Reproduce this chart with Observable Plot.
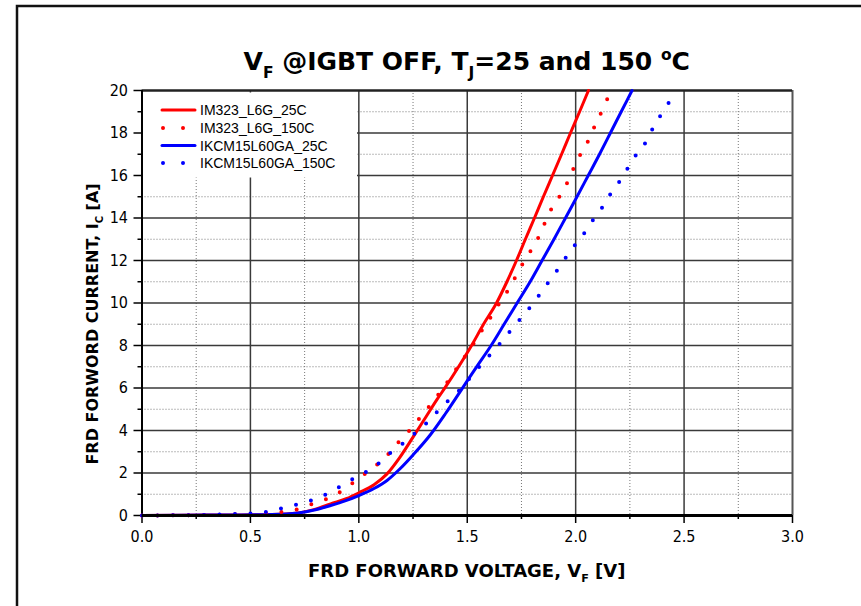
<!DOCTYPE html>
<html>
<head>
<meta charset="utf-8">
<script src="https://cdn.jsdelivr.net/npm/d3@7"></script>
<script src="https://cdn.jsdelivr.net/npm/@observablehq/plot@0.6"></script>
<style>
  html, body { margin: 0; padding: 0; background: #fff; }
  #chart svg { display: block; }
</style>
</head>
<body>
<div id="chart"></div>
<script>
// ---- Data ----
const seriesNames = ["IM323_L6G_25C", "IM323_L6G_150C", "IKCM15L60GA_25C", "IKCM15L60GA_150C"];
const seriesColors = ["#ff0000", "#ff0000", "#0000ff", "#0000ff"];
const seriesDotted = [false, true, false, true];

const im323_25C_V = [0, 0.3, 0.6, 0.72, 0.80, 0.87, 0.945, 1.0, 1.07, 1.13, 1.19, 1.25, 1.31, 1.36, 1.40, 1.46, 1.52, 1.575, 1.635, 1.683, 1.727, 1.768, 1.81, 1.851, 1.893, 1.935, 1.976, 2.018, 2.059];
const im323_25C_I = [0, 0.02, 0.05, 0.12, 0.3, 0.55, 0.8, 1.07, 1.45, 1.96, 2.75, 3.69, 4.65, 5.45, 6.05, 7.0, 8.0, 9.0, 10.0, 11.0, 12.0, 13.0, 14.0, 15.0, 16.0, 17.0, 18.0, 19.0, 20.0];

const im323_150C_V = [0, 0.3, 0.59, 0.66, 0.73, 0.80, 0.87, 0.935, 1.0, 1.065, 1.12, 1.18, 1.24, 1.29, 1.34, 1.39, 1.46, 1.53, 1.57, 1.61, 1.65, 1.70, 1.74, 1.78, 1.82, 1.85, 1.88, 1.92, 1.95, 1.98, 2.01, 2.05, 2.08, 2.11, 2.14, 2.17];
const im323_150C_I = [0, 0.03, 0.11, 0.19, 0.33, 0.6, 0.86, 1.25, 1.76, 2.24, 2.71, 3.42, 4.08, 4.71, 5.33, 6.01, 7.05, 8.1, 8.75, 9.36, 10.02, 10.8, 11.58, 12.25, 12.91, 13.58, 14.27, 14.93, 15.42, 16.09, 16.78, 17.46, 18.15, 18.79, 19.48, 20.0];

const ikcm_25C_V = [0, 0.3, 0.6, 0.72, 0.80, 0.87, 0.94, 1.0, 1.07, 1.13, 1.19, 1.25, 1.33, 1.40, 1.475, 1.54, 1.61, 1.67, 1.73, 1.79, 1.845, 1.90, 1.953, 2.006, 2.058, 2.11, 2.16, 2.21, 2.26];
const ikcm_25C_I = [0, 0.02, 0.05, 0.12, 0.27, 0.47, 0.7, 0.94, 1.27, 1.65, 2.2, 2.85, 3.8, 4.8, 5.95, 6.95, 8.0, 9.0, 10.0, 11.0, 12.0, 13.0, 14.0, 15.0, 16.0, 17.0, 18.0, 19.0, 20.0];

const ikcm_150C_V = [0, 0.3, 0.46, 0.53, 0.60, 0.67, 0.73, 0.80, 0.87, 0.93, 1.0, 1.07, 1.13, 1.21, 1.27, 1.33, 1.38, 1.44, 1.48, 1.53, 1.58, 1.63, 1.68, 1.73, 1.77, 1.82, 1.86, 1.905, 1.946, 1.995, 2.033, 2.075, 2.12, 2.16, 2.20, 2.24, 2.28, 2.33, 2.36, 2.40, 2.44, 2.46];
const ikcm_150C_I = [0, 0.03, 0.08, 0.11, 0.22, 0.41, 0.56, 0.78, 1.1, 1.47, 1.88, 2.27, 2.82, 3.45, 3.97, 4.52, 5.1, 5.65, 6.07, 6.7, 7.28, 7.84, 8.46, 9.07, 9.55, 10.2, 10.78, 11.4, 12.01, 12.7, 13.19, 13.84, 14.46, 15.12, 15.69, 16.34, 16.99, 17.68, 18.31, 18.95, 19.58, 19.85];

const xMajorTicks = [0, 0.5, 1.0, 1.5, 2.0, 2.5, 3.0];
const xMinorTicks = [0.25, 0.75, 1.25, 1.75, 2.25, 2.75];
const yMajorTicks = [0, 2, 4, 6, 8, 10, 12, 14, 16, 18, 20];
const yMinorTicks = [1, 3, 5, 7, 9, 11, 13, 15, 17, 19];

const titleParts = [["V", ""], ["F", "sub"], [" @IGBT OFF, T", ""], ["J", "sub"], ["=25 and 150 ", ""], ["o", "sup"], ["C", ""]];
const xLabelParts = [["FRD FORWARD VOLTAGE, V", ""], ["F", "sub"], [" [V]", ""]];
const yLabelParts = [["FRD FORWORD CURRENT, I", ""], ["C", "sub"], [" [A]", ""]];

// ---- Build tables ----
function table(name, V, I) { return V.map((v, k) => ({series: name, v, i: I[k]})); }
const tables = [
  table(seriesNames[0], im323_25C_V, im323_25C_I),
  table(seriesNames[1], im323_150C_V, im323_150C_I),
  table(seriesNames[2], ikcm_25C_V, ikcm_25C_I),
  table(seriesNames[3], ikcm_150C_V, ikcm_150C_I)
];

const gridCol = "#3a3a3a";
const lineMarks = [];
[0, 2, 1, 3].forEach(k => {
  lineMarks.push(Plot.line(tables[k], {
    x: "v", y: "i", stroke: seriesColors[k],
    curve: "monotone-x",
    strokeWidth: seriesDotted[k] ? 4 : 3,
    strokeDasharray: seriesDotted[k] ? "0,15.5" : null,
    strokeLinecap: "round", strokeLinejoin: "round"
  }));
});

const tickFont = "'DejaVu Sans Condensed', 'DejaVu Sans', sans-serif";
const chart = Plot.plot({
  width: 861, height: 606,
  marginLeft: 141.5, marginRight: 69, marginTop: 90, marginBottom: 91,
  x: {domain: [0, 3]},
  y: {domain: [0, 20]},
  style: {fontFamily: tickFont, fontSize: "16px", background: "white", color: "black"},
  marks: [
    Plot.gridX(xMinorTicks, {stroke: "#777", strokeOpacity: 1, strokeWidth: 1, strokeDasharray: "1,2"}),
    Plot.gridY(yMinorTicks, {stroke: "#777", strokeOpacity: 1, strokeWidth: 1, strokeDasharray: "1,2"}),
    Plot.gridX(xMajorTicks.slice(1, -1), {stroke: gridCol, strokeOpacity: 1, strokeWidth: 1.5}),
    Plot.gridY(yMajorTicks.slice(1, -1), {stroke: gridCol, strokeOpacity: 1, strokeWidth: 1.5}),
    Plot.axisX(xMajorTicks, {tickSize: 8, tickPadding: 7, tickFormat: d => d.toFixed(1), label: null, fontSize: 16, strokeWidth: 1.5}),
    Plot.axisX(xMinorTicks, {tickSize: 4, tickFormat: () => "", label: null, strokeWidth: 1.5}),
    Plot.axisY(yMajorTicks, {tickSize: 8, tickPadding: 6, label: null, fontSize: 16, strokeWidth: 1.5}),
    Plot.axisY(yMinorTicks, {tickSize: 4, tickFormat: () => "", label: null, strokeWidth: 1.5}),
    Plot.ruleX([3], {stroke: "#555", strokeWidth: 2}),
    Plot.ruleY([20], {stroke: "#222", strokeWidth: 2.5}),
    Plot.ruleX([0], {stroke: "black", strokeWidth: 2}),
    ...lineMarks,
    Plot.ruleY([0], {stroke: "black", strokeWidth: 3})
  ]
});
document.getElementById("chart").appendChild(chart);

// ---- Decorations: outer frame, title, axis labels, legend ----
const svg = d3.select(chart);
svg.append("path").attr("d", "M17,606V6H861").attr("fill", "none").attr("stroke", "#111").attr("stroke-width", 2.5);

const labelFont = "'DejaVu Sans', sans-serif";
function richText(g, parts, size, baseAttrs) {
  const t = g.append("text").attr("text-anchor", "middle").attr("font-weight", "bold")
    .attr("font-family", labelFont).attr("font-size", size).attr("fill", "black");
  Object.entries(baseAttrs).forEach(([k, v]) => t.attr(k, v));
  let shift = 0;
  parts.forEach(([s, kind]) => {
    const target = kind === "sub" ? size * 0.3 : kind === "sup" ? -size * 0.42 : 0;
    const ts = t.append("tspan").text(s).attr("dy", target - shift);
    if (kind) ts.attr("font-size", size * 0.62);
    shift = target;
  });
  return t;
}

const plotCx = (141.5 + 792) / 2;
richText(svg, titleParts, 25, {x: plotCx, y: 70});
richText(svg, xLabelParts, 18, {x: plotCx, y: 577});
const gy = svg.append("g").attr("transform", "translate(98,324) rotate(-90)");
richText(gy, yLabelParts, 16, {x: 0, y: 0});

// legend
const lg = svg.append("g");
lg.append("rect").attr("x", 143).attr("y", 92.5).attr("width", 214).attr("height", 85).attr("fill", "white");
const rowY = [110, 128, 145.5, 163];
seriesNames.forEach((name, k) => {
  const y = rowY[k];
  lg.append("line").attr("x1", 162).attr("x2", 195).attr("y1", y).attr("y2", y)
    .attr("stroke", seriesColors[k])
    .attr("stroke-width", seriesDotted[k] ? 4 : 3)
    .attr("stroke-linecap", "round")
    .attr("stroke-dasharray", seriesDotted[k] ? "0,20" : null)
    .attr("transform", seriesDotted[k] ? "translate(1,0)" : null);
  lg.append("text").attr("x", 200).attr("y", y).attr("dy", "0.36em")
    .attr("text-anchor", "start")
    .attr("font-family", "'Liberation Sans', Arial, sans-serif").attr("font-size", 14).attr("fill", "black")
    .text(name);
});
</script>
</body>
</html>
